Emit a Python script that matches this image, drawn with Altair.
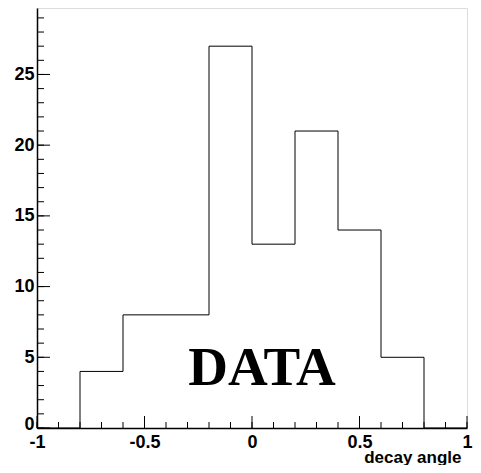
import altair as alt
import pandas as pd

edges = [-1.0, -0.8, -0.6, -0.4, -0.2, 0.0, 0.2, 0.4, 0.6, 0.8, 1.0]
counts = [0, 4, 8, 8, 27, 13, 21, 14, 5, 0, 0]
y_major = [0, 5, 10, 15, 20, 25]
y_minor = list(range(0, 30))
x_major = [-1.0, -0.5, 0.0, 0.5, 1.0]
x_minor = [round(-1 + 0.1 * i, 1) for i in range(21)]

W, H = 430, 420
YMAX = 29.7
FONT = "Liberation Sans"

xs = alt.Scale(domain=[-1, 1], nice=False, zero=False)
ys = alt.Scale(domain=[0, YMAX], nice=False, zero=False)

hist_df = pd.DataFrame({"x": edges, "y": counts})
hist = alt.Chart(hist_df).mark_line(interpolate="step-after", color="black", strokeWidth=1).encode(
    x=alt.X("x:Q", scale=xs, axis=alt.Axis(
        values=x_major, format="~g", labelExpr="replace(datum.label, '\u2212', '-')",
        ticks=False, grid=False, labelFont=FONT, labelFontWeight="bold",
        labelFontSize=18, labelColor="black", labelPadding=5, domainColor="black", domainWidth=1.5,
        title="decay angle", titleFont=FONT, titleFontWeight="bold", titleFontSize=17, titleColor="black",
        titleAnchor="end", titleAlign="right", titleX=W - 6, titleY=34, titleBaseline="alphabetic",
        labelFlush=False)),
    y=alt.Y("y:Q", scale=ys, axis=alt.Axis(
        values=y_major, ticks=False, grid=False, labelFont=FONT, labelFontWeight="bold",
        labelFontSize=18, labelColor="black", labelPadding=3, domainColor="black", domainWidth=1.5,
        labelOffset=alt.ConditionalAxisNumber(condition={"test": "datum.value == 0", "value": -4}, value=0),
        title=None)),
)

ymaj_df = pd.DataFrame({"v": y_major})
ymin_df = pd.DataFrame({"v": y_minor})
xmaj_df = pd.DataFrame({"v": x_major})
xmin_df = pd.DataFrame({"v": x_minor})

ymaj = alt.Chart(ymaj_df).mark_rule(color="black", strokeWidth=1).encode(
    y=alt.Y("v:Q", scale=ys), x=alt.value(0), x2=alt.value(13))
ymin = alt.Chart(ymin_df).mark_rule(color="black", strokeWidth=1).encode(
    y=alt.Y("v:Q", scale=ys), x=alt.value(0), x2=alt.value(7))
xmaj = alt.Chart(xmaj_df).mark_rule(color="black", strokeWidth=1).encode(
    x=alt.X("v:Q", scale=xs), y=alt.value(H), y2=alt.value(H - 12))
xmin = alt.Chart(xmin_df).mark_rule(color="black", strokeWidth=1).encode(
    x=alt.X("v:Q", scale=xs), y=alt.value(H), y2=alt.value(H - 6))

label = alt.Chart(pd.DataFrame({"t": ["DATA"]})).mark_text(
    font="Liberation Serif", fontWeight="bold", fontSize=55, baseline="alphabetic", align="center",
    color="black").encode(text="t:N", x=alt.value(225), y=alt.value(377))

chart = alt.layer(hist, ymin, ymaj, xmin, xmaj, label).properties(
    width=W, height=H,
    padding={"left": 29, "top": 0, "right": 6, "bottom": 37},
    autosize=alt.AutoSizeParams(type="none"),
).configure_view(stroke="#444", strokeWidth=1.5).configure(background="white")

chart.save("out.html", embed_options={"renderer": "svg", "actions": False})
